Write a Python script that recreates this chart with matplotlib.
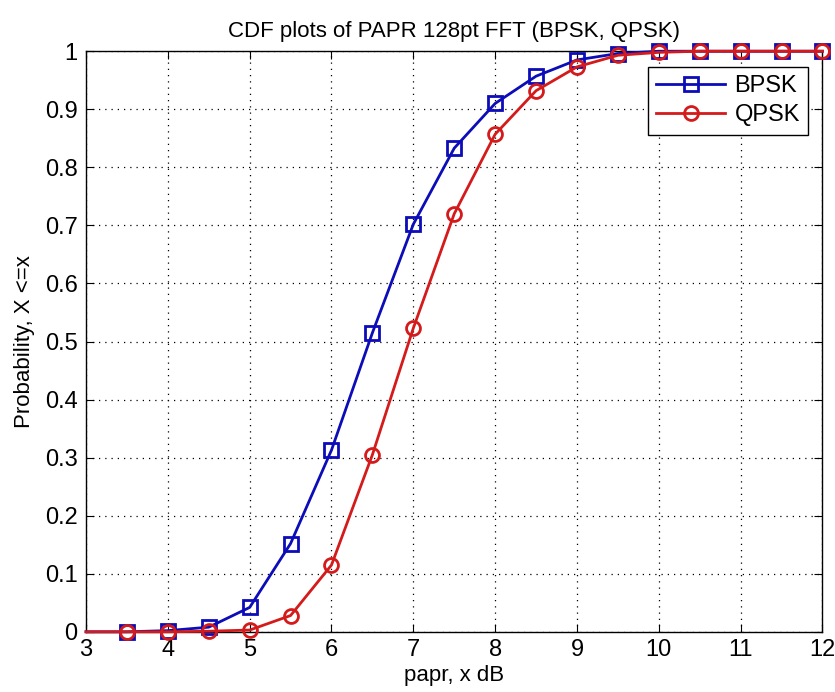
import matplotlib

matplotlib.use("Agg")
import matplotlib.pyplot as plt

papr_db = [3.0, 3.5, 4.0, 4.5, 5.0, 5.5, 6.0, 6.5, 7.0, 7.5, 8.0, 8.5, 9.0, 9.5,
           10.0, 10.5, 11.0, 11.5, 12.0]
cdf_bpsk = [0.0, 0.0, 0.002, 0.008, 0.042, 0.152, 0.313, 0.515, 0.702, 0.833, 0.910,
            0.957, 0.985, 0.996, 1.0, 1.0, 1.0, 1.0, 1.0]
cdf_qpsk = [0.0, 0.0, 0.0, 0.001, 0.003, 0.028, 0.115, 0.305, 0.523, 0.720, 0.857,
            0.932, 0.973, 0.993, 0.998, 1.0, 1.0, 1.0, 1.0]

x_ticks = [3, 4, 5, 6, 7, 8, 9, 10, 11, 12]
y_ticks = [0, 0.1, 0.2, 0.3, 0.4, 0.5, 0.6, 0.7, 0.8, 0.9, 1]
y_labels = ["0", "0.1", "0.2", "0.3", "0.4", "0.5", "0.6", "0.7", "0.8", "0.9", "1"]

BLUE = "#0c0cb8"
RED = "#d41a1a"

plt.rcParams["font.family"] = ["Liberation Sans", "DejaVu Sans"]

fig = plt.figure(figsize=(8.35, 6.92), dpi=100, facecolor="white")
ax = fig.add_axes([0.103, 0.087, 0.882, 0.839])

ax.plot(papr_db, cdf_bpsk, "-s", color=BLUE, lw=2, ms=10.5, mfc="none", mew=2,
        markevery=slice(1, None), label="BPSK", clip_on=False, zorder=3)
ax.plot(papr_db, cdf_qpsk, "-o", color=RED, lw=2, ms=10, mfc="none", mew=2,
        markevery=slice(1, None), label="QPSK", clip_on=False, zorder=4)

ax.set_xlim(3, 12)
ax.set_ylim(0, 1)
ax.set_xticks(x_ticks)
ax.set_yticks(y_ticks, y_labels)
ax.grid(True, linestyle=(0, (1, 4)), color="black", lw=0.9)
ax.tick_params(direction="in", top=True, right=True, labelsize=17, length=6, pad=6)
ax.tick_params(axis="x", pad=5)
for s in ax.spines.values():
    s.set_linewidth(1.0)

ax.set_title("CDF plots of PAPR 128pt FFT (BPSK, QPSK)", fontsize=16, pad=10)
ax.set_xlabel("papr, x dB", fontsize=16, labelpad=3)
ax.set_ylabel("Probability, X <=x", fontsize=16, labelpad=7)

leg = ax.legend(loc="upper right", bbox_to_anchor=(0.99, 0.985), fontsize=17,
                fancybox=False, edgecolor="black", framealpha=1, borderpad=0.35,
                handlelength=2.9, labelspacing=0.3, handletextpad=0.4,
                borderaxespad=0.3)
leg.get_frame().set_linewidth(1.0)

fig.savefig("out.png", dpi=100)
